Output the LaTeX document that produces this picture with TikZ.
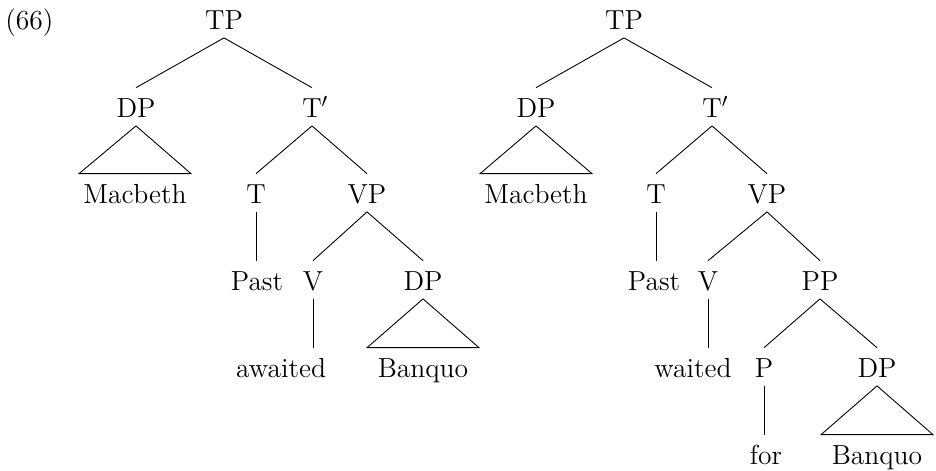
\documentclass[tikz,border=0pt]{standalone}
\usetikzlibrary{calc}

% triangle over an unanalysed phrase
\newcommand{\roof}[2]{\draw (#1.south) -- ($(#2.north)+(-56,0)$) -- ($(#2.north)+(56,0)$) -- cycle;}

\begin{document}
\begin{tikzpicture}[x=0.45pt, y=-0.45pt,
    cat/.style ={anchor=base, inner xsep=1pt, inner ysep=0pt, text height=13pt, text depth=3.8pt,
                 font=\fontsize{12.4}{14}\selectfont}]
   \useasboundingbox (0,0) rectangle (936,470);
   \node[cat, anchor=base west, inner xsep=0pt] (ex) at (5,29) {(66)};

   % awaited
   \node[cat] (tpA)    at (224,29)  {TP};
   \node[cat] (dpA)    at (136,117) {DP};
   \node[cat] (tbarA)  at (312,117) {T\rlap{$'$}};
   \node[cat] (macA)   at (135,203) {Macbeth};
   \node[cat] (tA)     at (256,203) {T};
   \node[cat] (vpA)    at (367,203) {VP};
   \node[cat] (pastA)  at (257,290) {Past};
   \node[cat] (vA)     at (313,290) {V};
   \node[cat] (objA)   at (423,290) {DP};
   \node[cat] (verbA)  at (281,377) {awaited};
   \node[cat] (banA)   at (423,377) {Banquo};
   \draw (tpA.south) -- (dpA.north);
   \draw (tpA.south) -- (tbarA.north);
   \roof{dpA}{macA}
   \draw (tbarA.south) -- (tA.north);
   \draw (tbarA.south) -- (vpA.north);
   \draw (tA.south) -- (tA.south |- pastA.north);
   \draw (vpA.south) -- (vA.north);
   \draw (vpA.south) -- (objA.north);
   \draw (vA.south) -- (vA.south |- verbA.north);
   \roof{objA}{banA}

   % waited for
   \node[cat] (tpB)    at (624,29)  {TP};
   \node[cat] (dpB)    at (536,117) {DP};
   \node[cat] (tbarB)  at (712,117) {T\rlap{$'$}};
   \node[cat] (macB)   at (536,203) {Macbeth};
   \node[cat] (tB)     at (656,203) {T};
   \node[cat] (vpB)    at (767,203) {VP};
   \node[cat] (pastB)  at (654,290) {Past};
   \node[cat] (vB)     at (708,290) {V};
   \node[cat] (ppB)    at (820,290) {PP};
   \node[cat] (verbB)  at (693,377) {waited};
   \node[cat] (pB)     at (764,377) {P};
   \node[cat] (objB)   at (877,377) {DP};
   \node[cat] (forB)   at (766,464) {for};
   \node[cat] (banB)   at (877,464) {Banquo};
   \draw (tpB.south) -- (dpB.north);
   \draw (tpB.south) -- (tbarB.north);
   \roof{dpB}{macB}
   \draw (tbarB.south) -- (tB.north);
   \draw (tbarB.south) -- (vpB.north);
   \draw (tB.south) -- (tB.south |- pastB.north);
   \draw (vpB.south) -- (vB.north);
   \draw (vpB.south) -- (ppB.north);
   \draw (vB.south) -- (vB.south |- verbB.north);
   \draw (ppB.south) -- (pB.north);
   \draw (ppB.south) -- (objB.north);
   \draw (pB.south) -- (pB.south |- forB.north);
   \roof{objB}{banB}
\end{tikzpicture}
\end{document}
